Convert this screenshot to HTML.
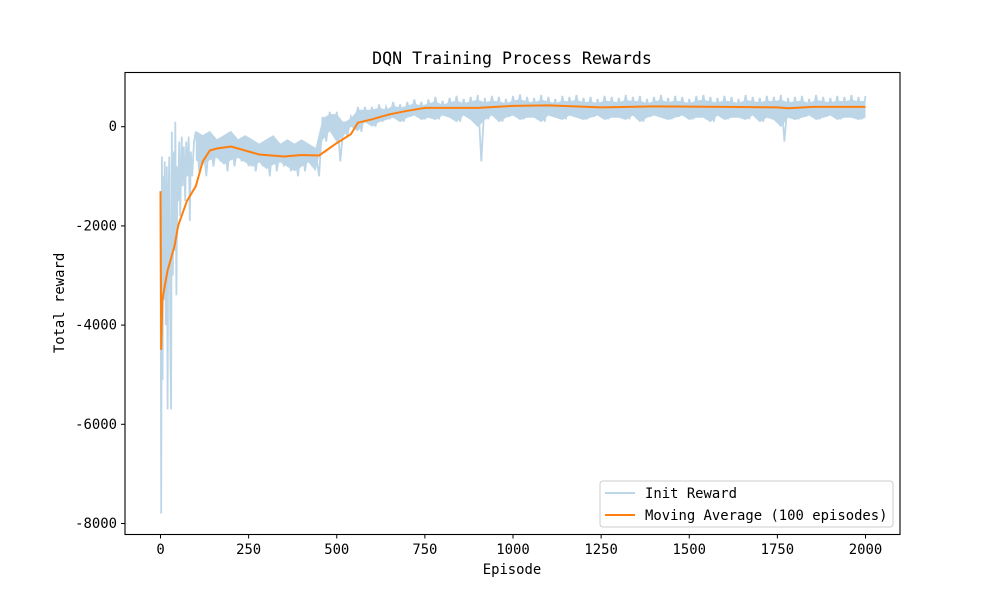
<!DOCTYPE html>
<html><head><meta charset="utf-8"><style>
body{margin:0;background:#fff}
svg{font-family:"DejaVu Sans Mono","Liberation Mono",monospace}
</style></head><body>
<svg id="chart" width="1000" height="600" viewBox="0 0 1000 600">
<rect width="1000" height="600" fill="#fff"/>
<text x="512" y="64" font-size="16.6" text-anchor="middle">DQN Training Process Rewards</text>
<g id="plot"></g>
<rect x="125" y="72.5" width="775" height="462" fill="none" stroke="#000" stroke-width="1.1"/>
<g id="ticks"></g>
<text x="512" y="574" font-size="13.9" text-anchor="middle">Episode</text>
<text transform="translate(64,303) rotate(-90)" font-size="13.9" text-anchor="middle">Total reward</text>
<g>
<rect x="600" y="481" width="293" height="46" rx="3" fill="#fff" fill-opacity="0.8" stroke="#ccc"/>
<line x1="605" y1="493" x2="635" y2="493" stroke="#bcd6e8" stroke-width="2"/>
<text x="645" y="498" font-size="13.9">Init Reward</text>
<line x1="605" y1="515" x2="635" y2="515" stroke="#ff7f0e" stroke-width="2"/>
<text x="645" y="520" font-size="13.9">Moving Average (100 episodes)</text>
</g>
</svg>
<script>
const earlyEp=[0,2,4,6,8,10,12,15,18,20,22,25,28,30,32,35,38,40,42,45,48,50,53,56,60,63,66,70,73,76,80,83,86,90,95];
const earlyVal=[-1300,-7800,-600,-5100,-1000,-3500,-700,-4000,-800,-5700,-1500,-600,-4500,-5700,-100,-3000,-500,-2500,100,-3400,-800,-1500,-300,-1800,-200,-1200,-400,-1500,-300,-1000,-200,-1900,-500,-1000,-300];
const hiVals=[-100,-200,-100,-300,-200,-100,-300,-200,
-300,-400,-300,-200,-400,-300,-400,-300,-400,-500,
200,300,300,100,200,400,400,
400,450,400,500,450,500,550,500,
550,600,520,580,620,560,600,640,580,620,600,560,620,650,600,580,640,600,560,620,600,640,580,600,560,620,600,580,640,600,620,560,600,640,580,620,600,560,620,640,600,580,620,600,560,640,600,580,620,600,640,580,600,620,560,640,600,580,620,600,640,600,620];
const loVals=[-900,-1000,-800,-700,-900,-800,-700,-800,
-900,-800,-1000,-900,-800,-900,-1000,-900,-800,-1000,
-300,-100,-700,-200,0,-100,100,
0,100,150,200,100,200,250,150,
200,150,250,200,100,250,150,-700,150,250,
100,200,250,150,200,200,100,250,200,150,
250,200,150,200,250,150,200,200,150,250,
100,200,250,200,150,200,250,150,200,200,
100,250,150,200,200,150,250,100,200,150,
-300,200,150,200,250,150,200,250,150,200,
200,150,200];
const maEp=[0,2,5,10,20,40,50,75,100,120,140,160,200,230,280,350,400,450,470,500,540,560,600,650,700,750,900,1000,1100,1250,1400,1600,1750,1780,1850,2000];
const maVal=[-1300,-4500,-3500,-3300,-2900,-2400,-2000,-1500,-1200,-700,-480,-440,-400,-460,-560,-600,-570,-580,-480,-330,-150,80,150,250,320,380,380,420,430,390,410,400,390,370,400,400];
const yTicks=[0,-2000,-4000,-6000,-8000];
const xTicks=[0,250,500,750,1000,1250,1500,1750,2000];

const X=e=>160.5+e*(865.5-160.5)/2000;
const Y=v=>126.7-v*49.6/1000;
const NS='http://www.w3.org/2000/svg';
const RAW='#bcd6e8';
const plot=document.getElementById('plot'), tk=document.getElementById('ticks');
let bandHi=[],bandLo=[];
hiVals.forEach((v,i)=>{const e=Math.min(2000,100+i*20);const lo=(loVals[i]===undefined)?v-300:loVals[i];bandHi.push([e,v]);bandLo.push([e,Math.max(lo,v-650)]);});
const env=document.createElementNS(NS,'path');
let d=bandHi.map((p,i)=>(i?'L':'M')+X(p[0]).toFixed(1)+','+Y(p[1]*0.85).toFixed(1)).join('');
d+=bandLo.slice().reverse().map(p=>'L'+X(p[0]).toFixed(1)+','+Y(Math.max(p[1],-1000)*0.9).toFixed(1)).join('')+'Z';
env.setAttribute('d',d);
env.setAttribute('fill',RAW);


plot.appendChild(env);
let pts=[];
earlyEp.forEach((e,i)=>pts.push([e,earlyVal[i]]));
hiVals.forEach((v,i)=>{const e=100+i*20;pts.push([e,v]);if(loVals[i]!==undefined)pts.push([e+10,loVals[i]]);});
pts=pts.filter(p=>p[0]<=2000);
const raw=document.createElementNS(NS,'path');
raw.setAttribute('d',pts.map((p,i)=>(i?'L':'M')+X(p[0]).toFixed(1)+','+Y(p[1]).toFixed(1)).join(''));
raw.setAttribute('fill','none');raw.setAttribute('stroke',RAW);raw.setAttribute('stroke-width','1.8');


plot.appendChild(raw);
const ma=document.createElementNS(NS,'path');
ma.setAttribute('d',maEp.map((e,i)=>(i?'L':'M')+X(e).toFixed(1)+','+Y(maVal[i]).toFixed(1)).join(''));
ma.setAttribute('fill','none');ma.setAttribute('stroke','#ff7f0e');ma.setAttribute('stroke-width','2');


plot.appendChild(ma);
yTicks.forEach(v=>{
 const l=document.createElementNS(NS,'line');
 l.setAttribute('x1',125);l.setAttribute('x2',121);l.setAttribute('y1',Y(v));l.setAttribute('y2',Y(v));l.setAttribute('stroke','#000');
 
 
 tk.appendChild(l);
 const t=document.createElementNS(NS,'text');
 t.setAttribute('x',117);t.setAttribute('y',Y(v)+4.5);t.setAttribute('font-size','13.9');t.setAttribute('text-anchor','end');
 t.textContent=v;
 
 
 tk.appendChild(t);
});
xTicks.forEach(v=>{
 const l=document.createElementNS(NS,'line');
 l.setAttribute('x1',X(v));l.setAttribute('x2',X(v));l.setAttribute('y1',534.5);l.setAttribute('y2',538.5);l.setAttribute('stroke','#000');
 
 
 tk.appendChild(l);
 const t=document.createElementNS(NS,'text');
 t.setAttribute('x',X(v));t.setAttribute('y',554);t.setAttribute('font-size','13.9');t.setAttribute('text-anchor','middle');
 t.textContent=v;
 
 
 tk.appendChild(t);
});
</script>
</body></html>
